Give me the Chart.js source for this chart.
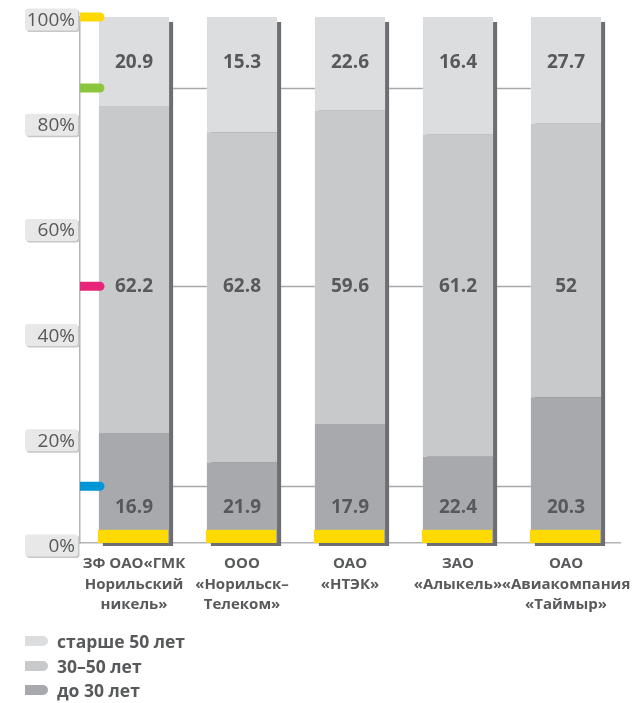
<!DOCTYPE html>
<html>
<head>
<meta charset="utf-8">
<script src="https://cdn.jsdelivr.net/npm/chart.js@4/dist/chart.umd.min.js"></script>
<style>
    body { margin: 0; background: #fff; }
    #wrap { position: relative; width: 636px; height: 703px; }
    #legend { position: absolute; left: 25px; top: 629px; font: bold 17.5px 'Open Sans', sans-serif; color: #58595b; }
    .item { height: 24.5px; display: flex; align-items: center; }
    .sw { width: 23px; height: 10px; border-radius: 0 5px 5px 0; margin-right: 9px; }
</style>
</head>
<body>
<div id="wrap">
    <canvas id="age-chart" width="636" height="703"></canvas>
    <div id="legend">
        <div class="item"><span class="sw" style="background:#dcdddf"></span>старше 50 лет</div>
        <div class="item"><span class="sw" style="background:#c8c9cb"></span>30–50 лет</div>
        <div class="item"><span class="sw" style="background:#a7a9ac"></span>до 30 лет</div>
    </div>
</div>
<script>
var companies = [
    ['ЗФ ОАО«ГМК', 'Норильский', 'никель»'],
    ['ООО', '«Норильск–', 'Телеком»'],
    ['ОАО', '«НТЭК»'],
    ['ЗАО', '«Алыкель»'],
    ['ОАО', '«Авиакомпания', '«Таймыр»']
];
// printed numbers
var under30 = [16.9, 21.9, 17.9, 22.4, 20.3];
var from30to50 = [62.2, 62.8, 59.6, 61.2, 52];
var over50 = [20.9, 15.3, 22.6, 16.4, 27.7];
var yTicks = [0, 20, 40, 60, 80, 100];
var markerLevels = [100, 86.5, 48.8, 10.8];
var markerColors = ['#ffd800', '#8cc63f', '#e6247a', '#0096d6'];

var textColor = '#58595b';
var fontFamily = "'Open Sans', sans-serif";

// note: in the reference the dark bottom segment is drawn with the height of the
// top numbers and the light top segment with the height of the bottom numbers
var decorPlugin = {
    id: 'decor',
    beforeDatasetsDraw: function (chart) {
        var ctx = chart.ctx;
        var ys = chart.scales.y;
        var area = chart.chartArea;
        var bars = chart.getDatasetMeta(0).data;
        var lastBar = bars[bars.length - 1];

        // level lines between bars
        ctx.save();
        ctx.strokeStyle = '#a9a9ab';
        ctx.lineWidth = 1.5;
        for (var i = 1; i < markerLevels.length; i++) {
            var ly = Math.round(ys.getPixelForValue(markerLevels[i])) + 0.5;
            ctx.beginPath();
            ctx.moveTo(area.left, ly);
            ctx.lineTo(lastBar.x - lastBar.width / 2, ly);
            ctx.stroke();
        }

        // bar shadows
        ctx.fillStyle = '#6d6e71';
        var top = ys.getPixelForValue(100);
        var bottom = ys.getPixelForValue(0);
        for (var j = 0; j < bars.length; j++) {
            var b = bars[j];
            ctx.fillRect(b.x - b.width / 2 + 4, top + 5, b.width, bottom - top - 2);
        }
        ctx.restore();
    },
    afterDatasetsDraw: function (chart) {
        var ctx = chart.ctx;
        var ys = chart.scales.y;
        var area = chart.chartArea;
        var bars = chart.getDatasetMeta(0).data;

        ctx.save();
        // yellow foot of each bar
        ctx.fillStyle = '#ffda00';
        var y0 = ys.getPixelForValue(0);
        var y1 = ys.getPixelForValue(2.5);
        for (var j = 0; j < bars.length; j++) {
            var b = bars[j];
            ctx.fillRect(b.x - b.width / 2 - 1, y1, b.width, y0 - y1);
        }

        // value labels
        ctx.fillStyle = textColor;
        ctx.font = 'bold 19px ' + fontFamily;
        ctx.textAlign = 'center';
        ctx.textBaseline = 'middle';
        for (var k = 0; k < bars.length; k++) {
            var x = bars[k].x;
            ctx.fillText(String(over50[k]), x, ys.getPixelForValue(91.4));
            ctx.fillText(String(from30to50[k]), x, ys.getPixelForValue(48.8));
            ctx.fillText(String(under30[k]), x, ys.getPixelForValue(6.8));
        }

        // coloured markers on the axis
        for (var m = 0; m < markerLevels.length; m++) {
            var my = ys.getPixelForValue(markerLevels[m]);
            ctx.fillStyle = markerColors[m];
            ctx.beginPath();
            ctx.moveTo(area.left, my - 4.5);
            ctx.lineTo(area.left + 20, my - 4.5);
            ctx.arc(area.left + 20, my, 4.5, -Math.PI / 2, Math.PI / 2);
            ctx.lineTo(area.left, my + 4.5);
            ctx.closePath();
            ctx.fill();
        }

        // tick labels in boxes
        ctx.font = '19px ' + fontFamily;
        ctx.textAlign = 'right';
        for (var t = 0; t < yTicks.length; t++) {
            var ty = ys.getPixelForValue(yTicks[t]) + 3;
            ctx.fillStyle = '#c6c7c9';
            ctx.beginPath();
            ctx.roundRect(26.5, ty - 10, 53, 22, 3);
            ctx.fill();
            ctx.fillStyle = '#e8e8e9';
            ctx.beginPath();
            ctx.roundRect(25, ty - 11.5, 53, 22, 3);
            ctx.fill();
            ctx.fillStyle = textColor;
            ctx.fillText(yTicks[t] + '%', 75, ty + 0.5);
        }
        ctx.restore();
    }
};

var ageChart = new Chart(document.getElementById('age-chart').getContext('2d'), {
    type: 'bar',
    data: {
        labels: companies,
        datasets: [
            { label: 'до 30 лет', data: over50, backgroundColor: '#a7a9ac' },
            { label: '30–50 лет', data: from30to50, backgroundColor: '#c8c9cb' },
            { label: 'старше 50 лет', data: under30, backgroundColor: '#dcdddf' }
        ]
    },
    options: {
        responsive: false,
        animation: false,
        devicePixelRatio: 1,
        layout: { padding: { top: 17, right: 16, left: 0, bottom: 0 } },
        datasets: { bar: { barPercentage: 0.65, categoryPercentage: 1, borderWidth: 0 } },
        plugins: { legend: { display: false }, tooltip: { enabled: false } },
        scales: {
            x: {
                stacked: true,
                grid: { display: false },
                border: { color: '#b3b3b5', width: 1.5 },
                ticks: {
                    color: textColor,
                    font: { family: fontFamily, size: 15, weight: 'bold', lineHeight: 1.35 },
                    padding: 3,
                    maxRotation: 0,
                    autoSkip: false
                },
                afterFit: function (s) { s.height = 160; }
            },
            y: {
                stacked: true,
                min: 0,
                max: 100,
                grid: { display: false },
                border: { color: '#b3b3b5', width: 1.5 },
                ticks: { display: false },
                afterFit: function (s) { s.width = 80; }
            }
        }
    },
    plugins: [decorPlugin]
});
</script>
</body>
</html>
